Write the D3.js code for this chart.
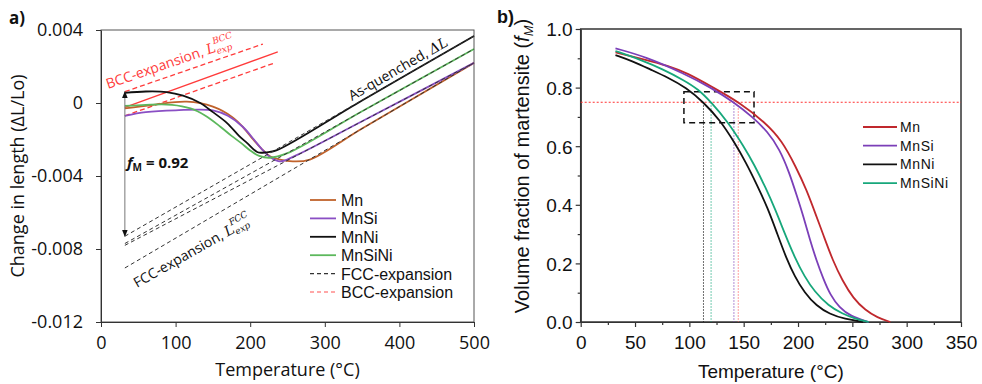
<!DOCTYPE html>
<html>
<head>
<meta charset="utf-8">
<script src="https://cdn.jsdelivr.net/npm/d3@7"></script>
<style>
  body { margin: 0; background: #fff; }
  svg { display: block; }
</style>
</head>
<body>
<div id="chart"></div>
<script>
// ---- panel a) dilatometry: [temperature, dL/Lo]
const seriesA = ["Mn", "MnSi", "MnNi", "MnSiNi"];
const coloursA = ["#c0622b", "#8a4fc4", "#111111", "#5cb85c"];
const curveMn = [[32,-0.0003],[70,-0.0001],[115,0.00007],[150,-0.0002],[177,-0.0008],[192,-0.0014],[204,-0.002],[215,-0.0025],[226,-0.0029],[240,-0.0031],[257,-0.0032],[280,-0.0031],[350,-0.0014],[500,0.0022]];
const curveMnSi = [[32,-0.0007],[60,-0.0005],[100,-0.0004],[150,-0.0004],[170,-0.0007],[190,-0.0013],[205,-0.002],[215,-0.0025],[228,-0.003],[240,-0.0032],[260,-0.0029],[350,-0.001],[500,0.0022]];
const curveMnNi = [[32,0.00056],[60,0.00063],[88,0.0006],[110,0.0004],[133,0],[150,-0.0005],[169,-0.0011],[185,-0.0018],[196,-0.0022],[210,-0.0027],[222,-0.0027],[235,-0.0026],[350,0.00014],[500,0.00367]];
const curveMnSiNi = [[32,-0.00016],[60,-0.0001],[95,-0.0001],[120,-0.0003],[140,-0.0007],[160,-0.0013],[175,-0.0018],[188,-0.0022],[200,-0.0026],[212,-0.0029],[226,-0.003],[250,-0.00275],[350,-0.00045],[500,0.00296]];
const curvesA = [curveMn, curveMnSi, curveMnNi, curveMnSiNi];

// FCC expansion lines (start at 32 C, end at 500 C)
const fccLines = [[[32,-0.0073],[500,0.00367]], [[32,-0.0077],[500,0.00296]], [[32,-0.0078],[500,0.0022]], [[32,-0.00904],[500,0.0022]]];
// BCC expansion lines
const bccLines = [[[32,0.00062],[217,0.00323]], [[32,-0.00024],[237,0.0028]], [[32,-0.0007],[233,0.0022]]];
const bccDashed = [true, false, true];
const ticksAy = [0.004, 0, -0.004, -0.008, -0.012];
const ticksAx = [0, 100, 200, 300, 400, 500];

// ---- panel b) martensite fraction: [temperature, fM]
const seriesB = ["Mn", "MnSi", "MnNi", "MnSiNi"];
const coloursB = ["#c0282d", "#7b3fb8", "#111111", "#17a77b"];
const fracMn = [[32,0.92],[60,0.895],[80,0.875],[98,0.85],[122,0.8],[146,0.75],[170,0.68],[185,0.62],[198,0.53],[208,0.45],[216,0.37],[224,0.29],[232,0.21],[241,0.14],[251,0.08],[262,0.04],[273,0.015],[285,0]];
const fracMnSi = [[32,0.934],[60,0.905],[94,0.85],[120,0.8],[141,0.75],[158,0.7],[172,0.65],[183,0.59],[192,0.51],[199,0.43],[205,0.36],[211,0.28],[217,0.21],[223,0.15],[230,0.09],[238,0.05],[248,0.02],[265,0]];
const fracMnNi = [[32,0.911],[48,0.89],[64,0.862],[80,0.835],[97,0.8],[113,0.75],[128,0.69],[142,0.61],[152,0.545],[162,0.47],[172,0.39],[181,0.3],[189,0.22],[197,0.155],[206,0.1],[217,0.055],[229,0.027],[243,0.01],[260,0]];
const fracMnSiNi = [[32,0.925],[55,0.895],[76,0.862],[95,0.825],[108,0.795],[120,0.75],[135,0.685],[150,0.6],[160,0.535],[170,0.46],[179,0.385],[188,0.3],[197,0.22],[206,0.155],[215,0.105],[228,0.055],[241,0.028],[252,0.012],[265,0]];
const curvesB = [fracMn, fracMnSi, fracMnNi, fracMnSiNi];
const t75 = [145, 141, 113, 120]; // temperature at fM = 0.75
const boxT = [95, 159.5];
const boxF = [0.68, 0.786];

const W = 982, H = 384;
const svg = d3.select("#chart").append("svg").attr("width", W).attr("height", H);

const fontA = "'Open Sans', sans-serif";
const fontB = "'Liberation Sans', Arial, sans-serif";

// ================= panel a =================
const xA = d3.scaleLinear().domain([0, 500]).range([101, 474]);
const yA = d3.scaleLinear().domain([-0.012, 0.004]).range([322, 30]);
const lineA = d3.line().x(d => xA(d[0])).y(d => yA(d[1]));
const smoothA = d3.line().x(d => xA(d[0])).y(d => yA(d[1])).curve(d3.curveCatmullRom.alpha(0.5));

const gA = svg.append("g");
gA.append("rect")
  .attr("x", xA(0)).attr("y", yA(0.004))
  .attr("width", xA(500) - xA(0)).attr("height", yA(-0.012) - yA(0.004))
  .attr("fill", "none").attr("stroke", "#555").attr("stroke-width", 1);

const axAx = gA.append("g").attr("transform", `translate(0,${yA(-0.012)})`)
  .call(d3.axisBottom(xA).tickValues(ticksAx).tickSize(5).tickSizeOuter(0));
const axAy = gA.append("g").attr("transform", `translate(${xA(0)},0)`)
  .call(d3.axisLeft(yA).tickValues(ticksAy).tickSize(5).tickSizeOuter(0)
    .tickFormat(d => d === 0 ? "0" : d3.format(".3f")(d).replace("−", "-")));
[axAx, axAy].forEach(ax => {
  ax.selectAll("path,line").attr("stroke", "#333");
  ax.selectAll("text").attr("font-family", fontA).attr("font-size", 18).attr("fill", "#111");
});
axAx.selectAll("text").attr("dy", "1.05em");
axAy.selectAll("text").attr("x", -18);

// BCC lines
bccLines.forEach((l, i) => {
  gA.append("path").attr("d", lineA(l)).attr("fill", "none")
    .attr("stroke", "#ff3b3b").attr("stroke-width", 1.3)
    .attr("stroke-dasharray", bccDashed[i] ? "5,3" : null);
});

// curves
curvesA.forEach((c, i) => {
  gA.append("path").attr("d", smoothA(c)).attr("fill", "none")
    .attr("stroke", coloursA[i]).attr("stroke-width", 1.8);
});

// FCC lines on top
fccLines.forEach(l => {
  gA.append("path").attr("d", lineA(l)).attr("fill", "none")
    .attr("stroke", "#333").attr("stroke-width", 1).attr("stroke-dasharray", "4,3");
});

// double arrow f_M
const defs = svg.append("defs");
defs.append("marker").attr("id", "ah").attr("viewBox", "0 0 10 10")
  .attr("refX", 9).attr("refY", 5).attr("markerWidth", 7).attr("markerHeight", 7)
  .attr("orient", "auto-start-reverse")
  .append("path").attr("d", "M0,1 L10,5 L0,9 z").attr("fill", "#111");
gA.append("line")
  .attr("x1", xA(32)).attr("x2", xA(32))
  .attr("y1", yA(0.00062)).attr("y2", yA(-0.0073))
  .attr("stroke", "#777").attr("stroke-width", 1)
  .attr("marker-start", "url(#ah)").attr("marker-end", "url(#ah)");

const fm = gA.append("text").attr("x", 127).attr("y", 168)
  .attr("font-family", fontA).attr("font-size", 15).attr("font-weight", "bold").attr("fill", "#111");
fm.append("tspan").attr("font-style", "italic").text("f");
fm.append("tspan").attr("font-size", 10).attr("dy", 3).text("M");
fm.append("tspan").attr("dy", -3).text(" = 0.92");

// rotated annotations
function mathLabel(g, x, y, angle, txt, sup, colour) {
  const t = g.append("text").attr("transform", `translate(${x},${y}) rotate(${angle})`)
    .attr("font-family", fontA).attr("font-size", 14).attr("fill", colour);
  t.append("tspan").text(txt);
  t.append("tspan").attr("font-family", "'DejaVu Serif', serif").attr("font-style", "italic").text("L");
  t.append("tspan").attr("font-family", "'DejaVu Serif', serif").attr("font-style", "italic")
    .attr("font-size", 9).attr("dy", 3).text("exp");
  t.append("tspan").attr("font-family", "'DejaVu Serif', serif").attr("font-style", "italic")
    .attr("font-size", 9).attr("dx", -17).attr("dy", -11).text(sup);
}
mathLabel(gA, 108, 89, -19, "BCC-expansion, ", "BCC", "#ff3b3b");
mathLabel(gA, 137, 288, -29.5, "FCC-expansion, ", "FCC", "#111");

const aq = gA.append("text").attr("transform", "translate(352,101) rotate(-30)")
  .attr("font-family", fontA).attr("font-size", 14).attr("fill", "#111");
aq.append("tspan").text("As-quenched, ");
aq.append("tspan").attr("font-family", "'DejaVu Serif', serif").attr("font-style", "italic").text("ΔL");

// legend a
const legA = seriesA.map((s, i) => ({ name: s, colour: coloursA[i], dash: null }))
  .concat([{ name: "FCC-expansion", colour: "#333", dash: "4,3" }, { name: "BCC-expansion", colour: "#ff5050", dash: "4,3" }]);
legA.forEach((d, i) => {
  const y = 200 + i * 18.4;
  gA.append("line").attr("x1", 310).attr("x2", 336).attr("y1", y).attr("y2", y)
    .attr("stroke", d.colour).attr("stroke-width", d.dash ? 1.2 : 1.8).attr("stroke-dasharray", d.dash);
  gA.append("text").attr("x", 341).attr("y", y + 6)
    .attr("font-family", fontB).attr("font-size", 16).attr("fill", "#111").text(d.name);
});

gA.append("text").attr("x", xA(250)).attr("y", 376).attr("text-anchor", "middle")
  .attr("font-family", fontA).attr("font-size", 18).attr("fill", "#111").text("Temperature (°C)");
gA.append("text").attr("transform", `translate(24,${yA(-0.004)}) rotate(-90)`).attr("text-anchor", "middle")
  .attr("font-family", fontA).attr("font-size", 18).attr("fill", "#111").text("Change in length (ΔL/Lo)");
gA.append("text").attr("x", 9).attr("y", 24)
  .attr("font-family", fontA).attr("font-size", 17).attr("font-weight", "bold").attr("fill", "#111").text("a)");

// ================= panel b =================
const xB = d3.scaleLinear().domain([0, 350]).range([580.7, 961]);
const yB = d3.scaleLinear().domain([0, 1]).range([322, 29]);
const lineB = d3.line().x(d => xB(d[0])).y(d => yB(d[1])).curve(d3.curveBasis);

const gB = svg.append("g");

const axBx = gB.append("g").attr("transform", `translate(0,${yB(0)})`)
  .call(d3.axisBottom(xB).tickValues(d3.range(0, 351, 50)).tickSize(5).tickSizeOuter(0).tickFormat(d3.format("d")));
const axBy = gB.append("g").attr("transform", `translate(${xB(0)},0)`)
  .call(d3.axisLeft(yB).tickValues(d3.range(0, 1.01, 0.2)).tickSize(5).tickSizeOuter(0).tickFormat(d3.format(".1f")));
gB.append("g").attr("transform", `translate(0,${yB(0)})`)
  .call(d3.axisBottom(xB).tickValues(d3.range(25, 350, 50)).tickSize(3).tickFormat(""))
  .call(g => g.select(".domain").remove());
gB.append("g").attr("transform", `translate(${xB(0)},0)`)
  .call(d3.axisLeft(yB).tickValues(d3.range(0.1, 1, 0.2)).tickSize(3).tickFormat(""))
  .call(g => g.select(".domain").remove());
gB.selectAll("path,line").attr("stroke", "#333").attr("stroke-width", 1.2);
[axBx, axBy].forEach(ax => {
  ax.selectAll("text").attr("font-family", fontB).attr("font-size", 19).attr("fill", "#111");
});
axBx.selectAll("text").attr("dy", "1.0em");
axBy.selectAll("text").attr("x", -8).attr("dy", "0.36em");

gB.append("rect")
  .attr("x", xB(0)).attr("y", yB(1))
  .attr("width", xB(350) - xB(0)).attr("height", yB(0) - yB(1))
  .attr("fill", "none").attr("stroke", "#333").attr("stroke-width", 1.5);

// reference lines at fM = 0.75
gB.append("line").attr("x1", xB(0)).attr("x2", xB(350)).attr("y1", yB(0.75)).attr("y2", yB(0.75))
  .attr("stroke", "#ff3030").attr("stroke-width", 1).attr("stroke-dasharray", "2,2");
t75.forEach((t, i) => {
  gB.append("line").attr("x1", xB(t)).attr("x2", xB(t)).attr("y1", yB(0.75)).attr("y2", yB(0))
    .attr("stroke", i === 0 ? "#ff6060" : coloursB[i]).attr("stroke-width", 1)
    .attr("stroke-opacity", 0.8).attr("stroke-dasharray", "1.5,1.5");
});
gB.append("rect")
  .attr("x", xB(boxT[0])).attr("y", yB(boxF[1]))
  .attr("width", xB(boxT[1]) - xB(boxT[0])).attr("height", yB(boxF[0]) - yB(boxF[1]))
  .attr("fill", "none").attr("stroke", "#111").attr("stroke-width", 1.5).attr("stroke-dasharray", "6,4");

curvesB.forEach((c, i) => {
  gB.append("path").attr("d", lineB(c)).attr("fill", "none")
    .attr("stroke", coloursB[i]).attr("stroke-width", 1.8);
});

// legend b
seriesB.forEach((s, i) => {
  const y = 127 + i * 18.7;
  gB.append("line").attr("x1", 863).attr("x2", 897).attr("y1", y).attr("y2", y)
    .attr("stroke", coloursB[i]).attr("stroke-width", 1.8);
  gB.append("text").attr("x", 900).attr("y", y + 5)
    .attr("font-family", fontB).attr("font-size", 14).attr("letter-spacing", 0.6)
    .attr("fill", "#111").text(s);
});

gB.append("text").attr("x", xB(175)).attr("y", 378).attr("text-anchor", "middle")
  .attr("font-family", fontB).attr("font-size", 19).attr("fill", "#111").text("Temperature (°C)");
const yl = gB.append("text").attr("transform", `translate(529,166) rotate(-90)`).attr("text-anchor", "middle")
  .attr("font-family", fontB).attr("font-size", 20).attr("fill", "#111");
yl.append("tspan").text("Volume fraction of martensite (");
yl.append("tspan").attr("font-style", "italic").text("f");
yl.append("tspan").attr("font-style", "italic").attr("font-size", 13).attr("dy", 4).text("M");
yl.append("tspan").attr("dy", -4).text(")");
gB.append("text").attr("x", 497).attr("y", 23)
  .attr("font-family", fontB).attr("font-size", 18).attr("font-weight", "bold").attr("fill", "#111").text("b)");
</script>
</body>
</html>
